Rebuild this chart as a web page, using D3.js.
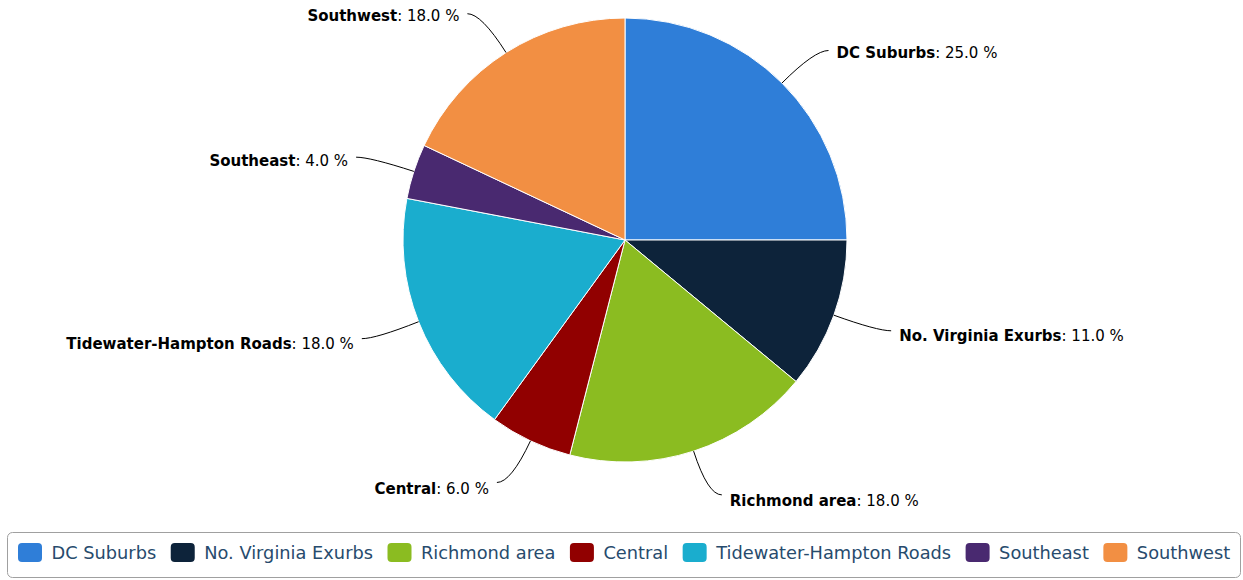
<!DOCTYPE html>
<html>
<head>
<meta charset="utf-8">
<script src="https://cdn.jsdelivr.net/npm/d3@7"></script>
<style>
  body { margin: 0; background: #fff; }
  svg { display: block; font-family: "DejaVu Sans", sans-serif; }
</style>
</head>
<body>
<div id="chart"></div>
<script>
// data
var regions = ["DC Suburbs", "No. Virginia Exurbs", "Richmond area", "Central",
               "Tidewater-Hampton Roads", "Southeast", "Southwest"];
var shares = [25.0, 11.0, 18.0, 6.0, 18.0, 4.0, 18.0];
var colors = ["#2f7ed8", "#0d233a", "#8bbc21", "#910000", "#1aadce", "#492970", "#f28f43"];

var width = 1243, height = 580;
var cx = 625, cy = 240, radius = 222;
var labelRadius = 268;

var svg = d3.select("#chart").append("svg")
    .attr("width", width)
    .attr("height", height);

var pie = d3.pie().sort(null).value(function(d) { return d; });
var arcs = pie(shares);
var arc = d3.arc().innerRadius(0).outerRadius(radius);

var g = svg.append("g").attr("transform", "translate(" + cx + "," + cy + ")");

g.selectAll("path.slice")
    .data(arcs)
    .enter().append("path")
    .attr("class", "slice")
    .attr("d", arc)
    .attr("fill", function(d, i) { return colors[i]; })
    .attr("stroke", "#fff")
    .attr("stroke-width", 1);

// labels with curved connectors
arcs.forEach(function(d, i) {
    var mid = (d.startAngle + d.endAngle) / 2;
    var sx = Math.sin(mid), sy = -Math.cos(mid);
    var right = sx >= 0;
    var ly = labelRadius * sy;
    var lx = (right ? 1 : -1) * Math.sqrt(labelRadius * labelRadius - ly * ly);
    var ex = lx + (right ? 14 : -14);
    var px = radius * sx, py = radius * sy;

    g.append("path")
        .attr("d", "M" + px + "," + py + " Q" + lx + "," + ly + " " + ex + "," + ly)
        .attr("fill", "none")
        .attr("stroke", "#000")
        .attr("stroke-width", 1);

    var t = g.append("text")
        .attr("x", lx + (right ? 22 : -22))
        .attr("y", ly + 4 + 2 * sy)
        .attr("dy", "0.35em")
        .attr("text-anchor", right ? "start" : "end")
        .style("font-size", "15px")
        .attr("fill", "#000");
    t.append("tspan").style("font-weight", "bold").text(regions[i]);
    t.append("tspan").text(": " + shares[i].toFixed(1) + " %");
});

// legend
var legend = svg.append("g");
legend.append("rect")
    .attr("x", 7.5).attr("y", 532.5)
    .attr("width", 1233).attr("height", 45)
    .attr("rx", 5)
    .attr("fill", "#fff")
    .attr("stroke", "#a0a0a0")
    .attr("stroke-width", 1);

var xPos = 18;
regions.forEach(function(name, i) {
    legend.append("rect")
        .attr("x", xPos).attr("y", 543)
        .attr("width", 24).attr("height", 19)
        .attr("rx", 4)
        .attr("fill", colors[i]);
    var txt = legend.append("text")
        .attr("x", xPos + 33.5)
        .attr("y", 553)
        .attr("dy", "0.35em")
        .style("font-size", "17.8px")
        .attr("fill", "#274b6d")
        .text(name);
    xPos = xPos + 33.5 + txt.node().getComputedTextLength() + 14.5;
});
</script>
</body>
</html>
